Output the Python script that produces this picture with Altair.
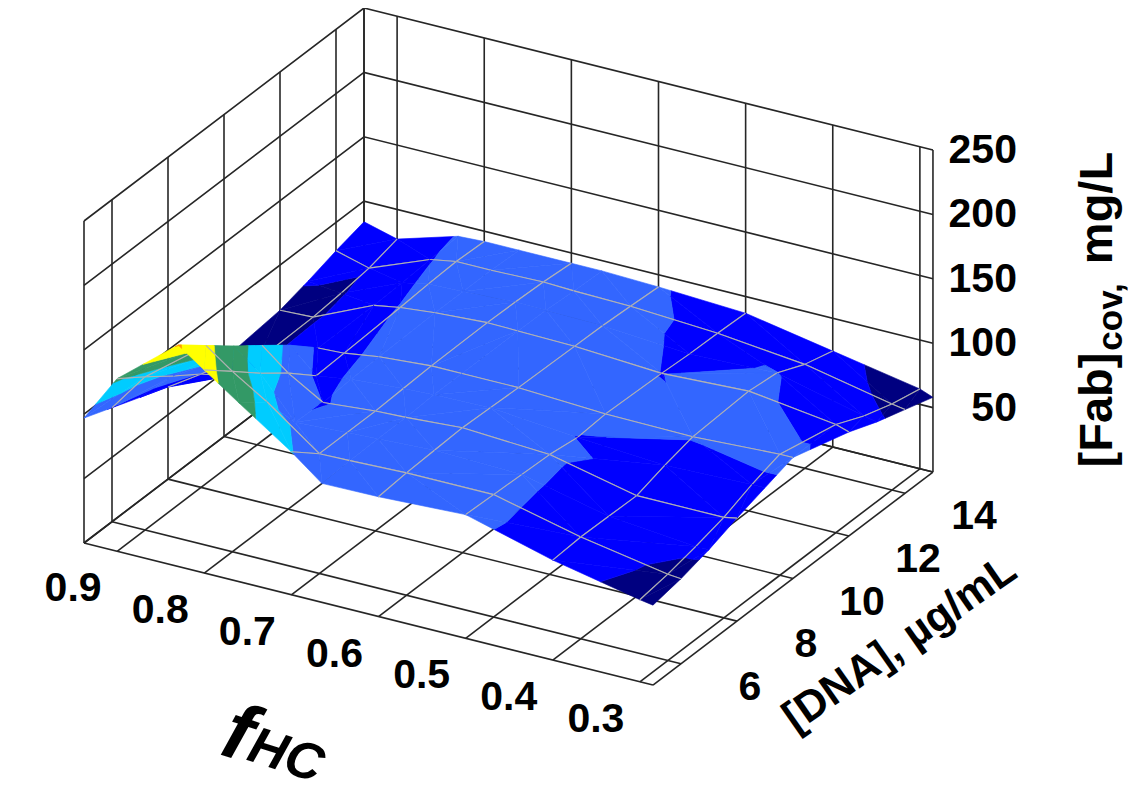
import altair as alt

# axes
f_ticks = [0.9, 0.8, 0.7, 0.6, 0.5, 0.4, 0.3]
d_ticks = [6, 8, 10, 12, 14]
z_ticks = [50, 100, 150, 200, 250]
f_min, f_max = 0.285, 0.938
d_min, d_max = 5, 15
z_min, z_max = 0, 250

# surface nodes
f_nodes = [0.938, 0.9, 0.83, 0.8, 0.76, 0.7, 0.665, 0.6, 0.5, 0.4, 0.3, 0.285]
d_nodes = [5, 6, 7, 8, 9, 10, 12, 13, 14, 15]
fab_938 = [97, 88.5, 80, 71.5, 64, 60, 65, 71, 78, 84]
fab_900 = [134, 119, 103, 88, 70, 65, 66, 68, 71, 77]
fab_830 = [172, 155, 138, 122, 105.6, 87, 87, 88, 89.5, 91]
fab_800 = [157.6, 140, 122, 105.6, 87, 88, 90.4, 92, 93, 92]
fab_760 = [138.7, 123, 90.8, 89.5, 91, 92, 93, 93, 93, 92]
fab_700 = [111, 93, 93, 93, 94, 95, 95.5, 95, 94, 92]
fab_665 = [92.4, 93.5, 94, 94, 95, 95, 95, 94.5, 93, 92]
fab_600 = [93, 95, 96, 97, 96, 95, 94, 93.5, 92, 90.5]
fab_500 = [96, 95, 94, 93, 89.8, 91.5, 89.9, 88.5, 88, 87]
fab_400 = [77.6, 79, 78.5, 78, 85, 90.6, 93, 90.5, 80.7, 74.5]
fab_300 = [63.7, 67, 72, 78, 87, 94, 84, 74, 66.8, 62]
fab_285 = [62, 66, 72, 80, 87, 94, 80.7, 72, 65, 58]
fab = [fab_938, fab_900, fab_830, fab_800, fab_760, fab_700,
       fab_665, fab_600, fab_500, fab_400, fab_300, fab_285]

# contour bands
levels = [-1000, 70, 90, 110, 130, 150, 170, 1000]
band_colors = ["#000080", "#0000ff", "#3366ff", "#00ccff", "#339966", "#ffff00", "#ff9900"]

GRID = "#262626"
MESH = "#b2b2b2"


def project(f, d, z):
    """Parallel projection of the 3D box onto the page."""
    a = f_max - f
    b = d - d_min
    return [84 + 871.3 * a + 28 * b,
            543 + 217.5 * a - 21.3 * b - z * 322 / 250]


def line(points, color, width):
    return {"type": "Feature", "geometry": {"type": "LineString", "coordinates": points},
            "properties": {"fill": "none", "stroke": color, "sw": width}}


def clip(tri, lo, hi):
    def cut(poly, keep, edge):
        out = []
        for i, p in enumerate(poly):
            q = poly[(i + 1) % len(poly)]
            if keep(p[2]):
                out.append(p)
            if keep(p[2]) != keep(q[2]):
                t = (edge - p[2]) / (q[2] - p[2])
                out.append([p[k] + t * (q[k] - p[k]) for k in range(3)])
        return out
    poly = cut(tri, lambda z: z >= lo, lo)
    if poly:
        poly = cut(poly, lambda z: z <= hi, hi)
    return poly


def tri_features(tri):
    out = []
    for k, color in enumerate(band_colors):
        poly = clip(tri, levels[k], levels[k + 1])
        if len(poly) >= 3:
            ring = [project(*p) for p in poly]
            ring.append(ring[0])
            out.append({"type": "Feature",
                        "geometry": {"type": "Polygon", "coordinates": [ring]},
                        "properties": {"fill": color, "stroke": color, "sw": 0.6}})
    return out


features = []
f_box = [f_max] + f_ticks + [f_min]
d_box = [d_min] + d_ticks + [d_max]
z_box = [z_min] + z_ticks

# walls and floor
for d in d_box:
    features.append(line([project(f_max, d, z_min), project(f_max, d, z_max)], GRID, 1.6))
for f in f_box:
    features.append(line([project(f, d_max, z_min), project(f, d_max, z_max)], GRID, 1.6))
for z in z_box:
    features.append(line([project(f_max, d_min, z), project(f_max, d_max, z),
                          project(f_min, d_max, z)], GRID, 1.6))
for f in f_box:
    features.append(line([project(f, d_min, z_min), project(f, d_max, z_min)], GRID, 1.6))
for d in d_box:
    features.append(line([project(f_max, d, z_min), project(f_min, d, z_min)], GRID, 1.6))

# surface, painted from the far corner to the near one
for i in range(len(f_nodes) - 1):
    for j in range(len(d_nodes) - 2, -1, -1):
        f0, f1 = f_nodes[i], f_nodes[i + 1]
        d0, d1 = d_nodes[j], d_nodes[j + 1]
        far = [f0, d0, fab[i][j]]
        back = [f0, d1, fab[i][j + 1]]
        front = [f1, d0, fab[i + 1][j]]
        near = [f1, d1, fab[i + 1][j + 1]]
        if abs(far[2] - near[2]) <= abs(back[2] - front[2]):
            features += tri_features([far, back, near])
            features += tri_features([far, near, front])
        else:
            features += tri_features([far, back, front])
            features += tri_features([back, near, front])
        if f0 in f_ticks:
            features.append(line([project(*far), project(*back)], MESH, 1.1))
        if f1 in f_ticks:
            features.append(line([project(*front), project(*near)], MESH, 1.1))
        if d0 in d_ticks:
            features.append(line([project(*far), project(*front)], MESH, 1.1))
        if d1 in d_ticks:
            features.append(line([project(*back), project(*near)], MESH, 1.1))

PROJ = dict(type="identity", scale=1, translate=[-8, -8])

shapes = alt.Chart(alt.Data(values=features)).mark_geoshape().encode(
    fill=alt.Fill("properties.fill:N", scale=None),
    stroke=alt.Stroke("properties.stroke:N", scale=None),
    strokeWidth=alt.StrokeWidth("properties.sw:Q", scale=None),
).project(**PROJ)


def text_layer(rows, **style):
    return alt.Chart(alt.Data(values=rows)).mark_text(
        font="Liberation Sans", color="black", **style
    ).encode(longitude="lon:Q", latitude="lat:Q", text="t:N").project(**PROJ)


def at(p, dx, dy, t):
    return {"lon": p[0] + dx, "lat": p[1] + dy, "t": t}


f_labels = [at(project(f, d_min, 0), -44, 38, f"{f:.1f}") for f in f_ticks]
d_labels = [at(project(f_min, d, 0), 69, 24, str(d)) for d in d_ticks]
z_labels = [at(project(f_min, d_max, z), 84, 1, str(z)) for z in z_ticks]

layers = [
    shapes,
    text_layer(f_labels, fontSize=41, fontWeight="bold", align="center", baseline="middle"),
    text_layer(d_labels, fontSize=41, fontWeight="bold", align="center", baseline="middle"),
    text_layer(z_labels, fontSize=41, fontWeight="bold", align="right", baseline="middle"),
    text_layer([{"lon": 900, "lat": 644, "t": "[DNA], µg/mL"}], fontSize=43, fontWeight="bold",
               align="center", baseline="middle", angle=325),
    text_layer([{"lon": 1112, "lat": 410, "t": "[Fab]"}, {"lon": 1112, "lat": 208, "t": "mg/L"}],
               fontSize=47, fontWeight="bold", align="center", baseline="alphabetic", angle=270),
    text_layer([{"lon": 1122, "lat": 317, "t": "cov,"}], fontSize=35, fontWeight="bold",
               align="center", baseline="alphabetic", angle=270),
    text_layer([{"lon": 238, "lat": 735, "t": "f"}], fontSize=80, fontWeight="bold", fontStyle="italic",
               align="center", baseline="middle", angle=18),
    text_layer([{"lon": 286, "lat": 756, "t": "HC"}], fontSize=52, fontWeight="bold", fontStyle="italic",
               align="center", baseline="middle", angle=18),
]

chart = alt.layer(*layers).properties(
    width=1120, height=786, padding=0, autosize="none", background="white"
).configure_view(stroke=None)

chart.save("out.html", embed_options={"renderer": "svg", "actions": False})
